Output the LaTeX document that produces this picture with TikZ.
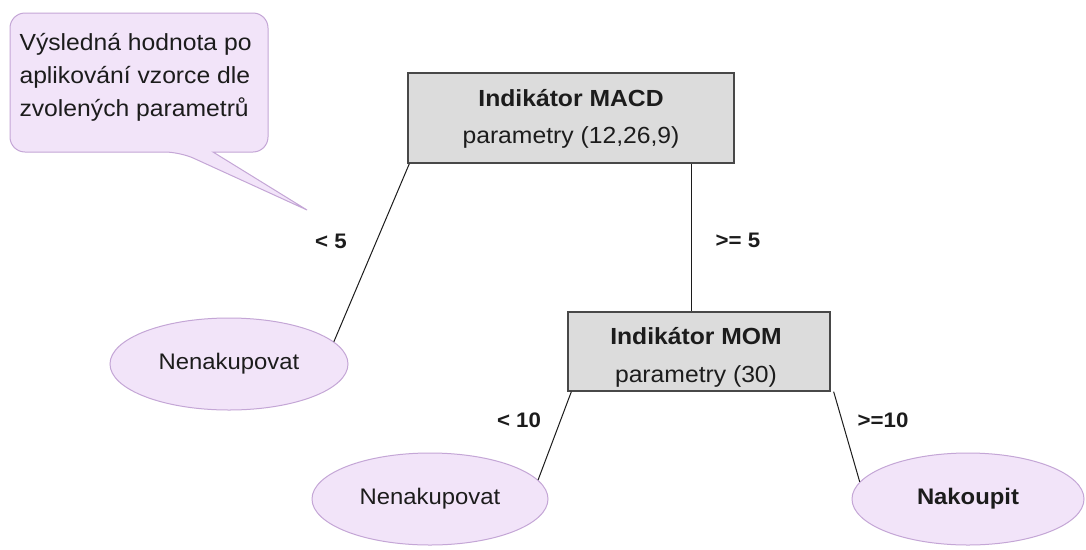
\documentclass[tikz,border=0pt]{standalone}
\usepackage{fontspec}
\setmainfont{Liberation Sans}[FakeStretch=1.06]
\usetikzlibrary{shapes.geometric}
\definecolor{lilacfill}{RGB}{242,228,249}
\definecolor{lilacline}{RGB}{196,166,214}
\definecolor{boxfill}{RGB}{220,220,220}
\definecolor{boxline}{RGB}{72,72,72}
\definecolor{ink}{RGB}{28,28,28}
\tikzset{
  txt/.style={font=\fontsize{22.5}{33}\selectfont, text=ink},
  decision/.style={draw=boxline, fill=boxfill, line width=1.3pt, rectangle, inner sep=0pt},
  leaf/.style={draw=lilacline, fill=lilacfill, line width=1pt, ellipse, inner sep=0pt, txt},
  callout/.style={draw=lilacline, fill=lilacfill, line width=1pt},
  edge/.style={draw=ink, line width=1pt},
  cond/.style={txt, font=\fontsize{21}{25}\selectfont\bfseries}
}
\begin{document}
\begin{tikzpicture}[x=1pt, y=-1pt]
  \useasboundingbox[fill=white] (0,0) rectangle (1086,549);

  % speech bubble with its pointer
  \draw[callout] (180,152) -- (307,210) -- (213,152)
        [rounded corners=15] -- (268,152) -- (268,13) -- (10,13) -- (10,152) -- cycle;
  \node[txt, anchor=west, align=left, font=\fontsize{23.3}{33}\selectfont] (note) at (16,77)
    {Výsledná hodnota po\\aplikování vzorce dle\\zvolených parametrů};

  % decision boxes
  \node[decision, minimum width=326pt, minimum height=90pt] (macd) at (571,118) {};
  \node[txt, align=center, font=\fontsize{23.3}{37}\selectfont] (macdtxt) at (571,118.5)
    {\textbf{Indikátor MACD}\\parametry (12,26,9)};

  \node[decision, minimum width=262pt, minimum height=79pt] (mom) at (699,351.5) {};
  \node[txt, align=center, font=\fontsize{23.3}{38}\selectfont] (momtxt) at (696,357)
    {\textbf{Indikátor MOM}\\parametry (30)};

  % leaves
  \node[leaf, minimum width=238pt, minimum height=92pt] (no1) at (229,364) {Nenakupovat};
  \node[leaf, minimum width=236pt, minimum height=92pt] (no2) at (430,499) {Nenakupovat};
  \node[leaf, minimum width=232pt, minimum height=92pt] (yes) at (968,499) {\textbf{Nakoupit}};

  % connectors
  \draw[edge] ([xshift=2pt]macd.south west) -- (no1.12);
  \coordinate (drop) at (691,0);
  \draw[edge] (drop |- macd.south) -- (drop |- mom.north);
  \draw[edge] ([xshift=4pt]mom.south west) -- (no2.10);
  \draw[edge] ([xshift=3pt]mom.south east) -- (yes.171);

  % branch conditions
  \node[cond] (c1) at (331,241) {< 5};
  \node[cond] (c2) at (738,240) {>= 5};
  \node[cond] (c3) at (519,420) {< 10};
  \node[cond] (c4) at (883,420) {>=10};
\end{tikzpicture}
\end{document}
